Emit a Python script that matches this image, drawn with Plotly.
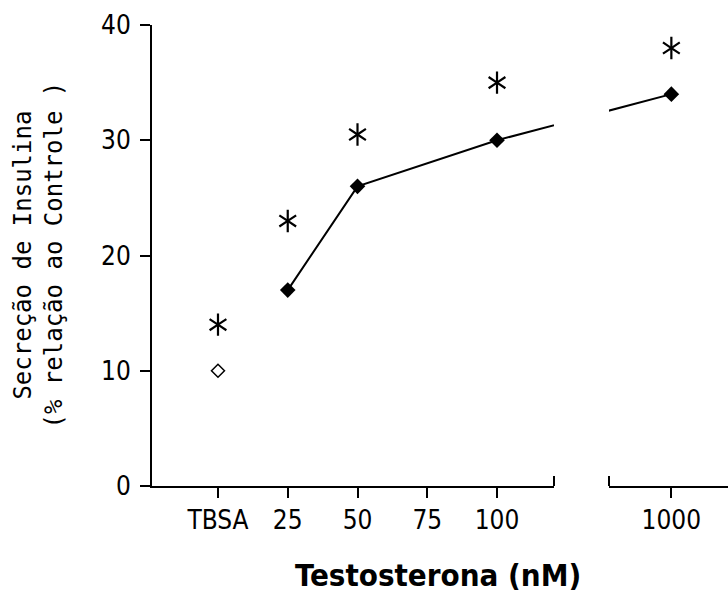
import plotly.graph_objects as go

# ---- data ----
categories = ["TBSA", "25", "50", "75", "100", "1000"]
cat_pos = [0, 1, 2, 3, 4, 6.5]          # positions on the broken axis
control_x = ["TBSA"]
control_y = [10]
testo_x = ["25", "50", "100", "1000"]
testo_y = [17, 26, 30, 34]
sig_x = ["TBSA", "25", "50", "100", "1000"]
sig_y = [14, 23, 30.5, 35, 38]
y_ticks = [0, 10, 20, 30, 40]

pos = dict(zip(categories, cat_pos))
W, H = 728, 595
ML, MR, MT, MB = 152, 0, 25, 109

# axis geometry (unified coordinate on both segments)
seg1_range = [-0.946, 4.817]
seg2_range = [5.606, 7.312]
plot_w = W - ML - MR
d1_end = (554 - ML) / plot_w
d2_start = (609 - ML) / plot_w

tick_font = dict(family="Liberation Sans Narrow, DejaVu Sans Condensed, Liberation Sans", size=26, color="black")

fig = go.Figure()
for xa in ["x", "x2"]:
    fig.add_trace(go.Scatter(
        x=[pos[c] for c in testo_x], y=testo_y, xaxis=xa, yaxis="y",
        mode="lines+markers", line=dict(color="black", width=2),
        marker=dict(symbol="diamond", size=12, color="black"),
        showlegend=False, hoverinfo="skip"))
    fig.add_trace(go.Scatter(
        x=[pos[c] for c in control_x], y=control_y, xaxis=xa, yaxis="y",
        mode="markers",
        marker=dict(symbol="diamond-open", size=10, color="black", line=dict(width=1.5)),
        showlegend=False, hoverinfo="skip"))
    for sym in ["y-up-open", "y-down-open"]:
        fig.add_trace(go.Scatter(
            x=[pos[c] for c in sig_x], y=sig_y, xaxis=xa, yaxis="y",
            mode="markers",
            marker=dict(symbol=sym, size=14, color="black", line=dict(width=2.2, color="black")),
            showlegend=False, hoverinfo="skip"))

common_x = dict(showline=True, linecolor="black", linewidth=2, ticks="outside",
                ticklen=10, tickwidth=2, tickcolor="black", showgrid=False,
                zeroline=False, tickfont=tick_font, anchor="y", fixedrange=True,
                ticklabelstandoff=0)
fig.update_layout(
    width=W, height=H, margin=dict(l=ML, r=MR, t=MT, b=MB),
    paper_bgcolor="white", plot_bgcolor="white",
    xaxis=dict(domain=[0, d1_end], range=seg1_range,
               tickvals=[pos[c] for c in categories[:5]], ticktext=categories[:5], **common_x),
    xaxis2=dict(domain=[d2_start, 1], range=seg2_range,
                tickvals=[pos["1000"]], ticktext=["1000"], **common_x),
    yaxis=dict(domain=[0, 1], range=[0, 40], tickvals=y_ticks, showline=True,
               linecolor="black", linewidth=2, ticks="outside", ticklen=10, tickwidth=2,
               tickcolor="black", showgrid=False, zeroline=False, tickfont=tick_font,
               anchor="x", ticklabelstandoff=4, fixedrange=True),
)

# segment end caps
for xr, xv in [("x domain", 1), ("x2 domain", 0)]:
    fig.add_shape(type="line", xref=xr, x0=xv, x1=xv, yref="y", ysizemode="pixel",
                  yanchor=0, y0=-10, y1=10, line=dict(color="black", width=2))

# axis titles
fig.add_annotation(text="Testosterona (nM)", xref="paper", yref="paper", x=0.496, y=0,
                   yshift=-89, yanchor="middle", showarrow=False,
                   font=dict(family="Liberation Sans Narrow, DejaVu Sans Condensed, Liberation Sans",
                             size=31, color="black", weight="bold"))
fig.add_annotation(text="Secreção de Insulina<br>(% relação ao Controle )", xref="paper", yref="paper",
                   x=0, y=0.5, xshift=-114, xanchor="center", yanchor="middle", textangle=-90,
                   showarrow=False,
                   font=dict(family="DejaVu Sans Mono", size=24, color="black"))

fig.write_html("out.html", config={"displayModeBar": False},
               post_script="document.body.style.margin='0';document.body.style.padding='0';")
